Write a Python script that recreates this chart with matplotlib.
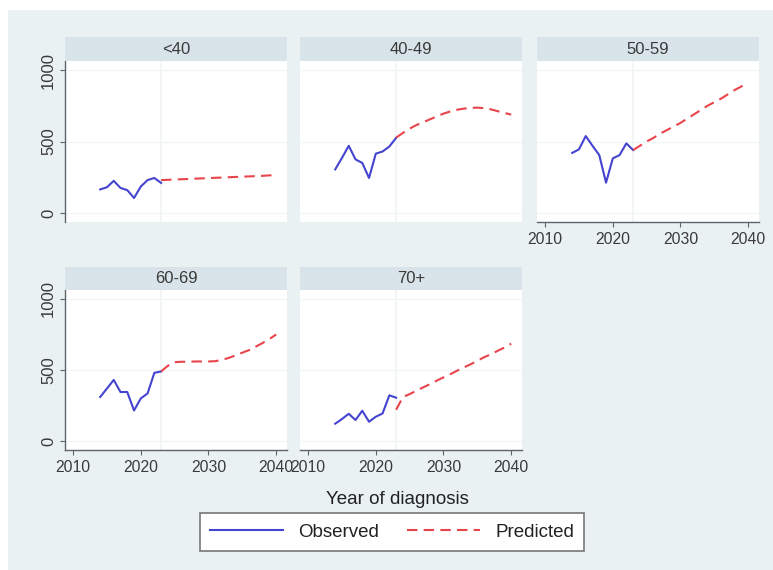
import matplotlib
matplotlib.use("Agg")
import matplotlib.pyplot as plt
from matplotlib.patches import Rectangle
from matplotlib.lines import Line2D

plt.rcParams["font.family"] = ["Liberation Sans", "DejaVu Sans"]

groups = ["<40", "40-49", "50-59", "60-69", "70+"]

obs_years = list(range(2014, 2024))
pred_years = list(range(2023, 2041))

observed = {
    "<40": [165, 180, 225, 175, 160, 105, 185, 230, 245, 210],
    "40-49": [305, 385, 470, 375, 350, 245, 415, 430, 465, 525],
    "50-59": [420, 445, 538, 470, 405, 212, 382, 405, 487, 440],
    "60-69": [310, 370, 430, 345, 345, 215, 300, 335, 480, 490],
    "70+": [122, 155, 192, 148, 213, 136, 171, 194, 322, 305],
}
predicted = {
    "<40": [230, 232, 234, 236, 238, 240, 242, 244, 246, 248, 250, 252, 254, 256, 258, 260, 263, 266],
    "40-49": [527, 560, 590, 615, 635, 655, 675, 695, 710, 722, 730, 735, 737, 733, 725, 712, 700, 688],
    "50-59": [440, 470, 500, 525, 555, 580, 605, 630, 660, 690, 720, 750, 775, 800, 830, 860, 885, 910],
    "60-69": [490, 530, 555, 558, 558, 560, 560, 560, 562, 572, 585, 603, 622, 640, 665, 690, 718, 750],
    "70+": [220, 310, 330, 355, 378, 400, 425, 448, 470, 495, 518, 540, 565, 590, 610, 635, 658, 685],
}

x_ticks = [2010, 2020, 2030, 2040]
y_ticks = [0, 500, 1000]

W, H = 773, 570
BG = "#eaf1f3"
STRIP = "#d8e4e9"
BLUE = "#4444d0"
RED = "#e8444c"
TEXT = "#3a3a3a"
AXIS = "#5f6468"
GRID = "#f1f5f6"

fig = plt.figure(figsize=(W / 100, H / 100), dpi=100)
fig.patch.set_facecolor("white")
fig.patches.append(Rectangle((8 / W, 0), 1 - 8 / W, 1 - 10 / H, transform=fig.transFigure,
                             facecolor=BG, edgecolor="none", zorder=-10))


def fx(px):
    return px / W


def fy(py):
    return 1 - py / H


col_left = [65, 300, 537]
panel_w = 222
# (strip top, plot top, plot bottom) in pixels
rows = [(37, 61, 222), (267, 290, 450)]
positions = [(0, 0), (0, 1), (0, 2), (1, 0), (1, 1)]

for g, (r, c) in zip(groups, positions):
    st, pt, pb = rows[r]
    left = col_left[c]
    ax = fig.add_axes([fx(left), fy(pb), panel_w / W, (pb - pt) / H])
    ax.set_facecolor("white")
    ax.set_xlim(2008.8, 2041.6)
    ax.set_ylim(-63, 1063)

    for v in y_ticks:
        ax.axhline(v, color=GRID, lw=1, zorder=0)
    ax.axvline(2023, color=GRID, lw=1.2, zorder=0)

    ax.plot(obs_years, observed[g], color=BLUE, lw=1.5, zorder=3)
    ax.plot(pred_years, predicted[g], color=RED, lw=1.5, dashes=(5, 3), zorder=3)

    for s in ax.spines.values():
        s.set_visible(False)

    show_y = c == 0
    show_x = (r == 1) or (c == 2)
    if show_y:
        ax.spines["left"].set_visible(True)
        ax.spines["left"].set_color(AXIS)
        ax.spines["left"].set_linewidth(1.0)
        ax.set_yticks(y_ticks)
        ax.set_yticklabels([str(v) for v in y_ticks], rotation=90, va="center")
        ax.tick_params(axis="y", length=3.5, width=0.8, color=AXIS, labelsize=12,
                       labelcolor=TEXT, pad=3)
    else:
        ax.set_yticks([])
    if show_x:
        ax.spines["bottom"].set_visible(True)
        ax.spines["bottom"].set_color(AXIS)
        ax.spines["bottom"].set_linewidth(1.0)
        ax.set_xticks(x_ticks)
        ax.tick_params(axis="x", length=3.5, width=0.8, color=AXIS, labelsize=11.3,
                       labelcolor=TEXT, pad=4)
    else:
        ax.set_xticks([])

    sax = fig.add_axes([fx(left), fy(pt), panel_w / W, (pt - st) / H])
    sax.set_facecolor(STRIP)
    sax.set_xticks([])
    sax.set_yticks([])
    for s in sax.spines.values():
        s.set_visible(False)
    sax.text(0.5, 0.5, g, ha="center", va="center", fontsize=12, color=TEXT,
             transform=sax.transAxes)

fig.text(fx(397), fy(499), "Year of diagnosis", ha="center", va="center",
         fontsize=13.5, color="#222222")

handles = [Line2D([], [], color=BLUE, lw=1.5),
           Line2D([], [], color=RED, lw=1.5, dashes=(5, 3))]
leg = fig.legend(handles, ["Observed", "Predicted"], ncol=2, loc="center",
                 bbox_to_anchor=(fx(392), fy(532)), fontsize=13.5, frameon=True,
                 fancybox=False, framealpha=1, edgecolor="#777777",
                 handlelength=3.9, columnspacing=1.5, handletextpad=0.8,
                 borderpad=0.55, borderaxespad=0)
leg.get_frame().set_linewidth(1.2)
for t in leg.get_texts():
    t.set_color("#222222")

fig.savefig("out.png", dpi=100, facecolor=fig.get_facecolor())
